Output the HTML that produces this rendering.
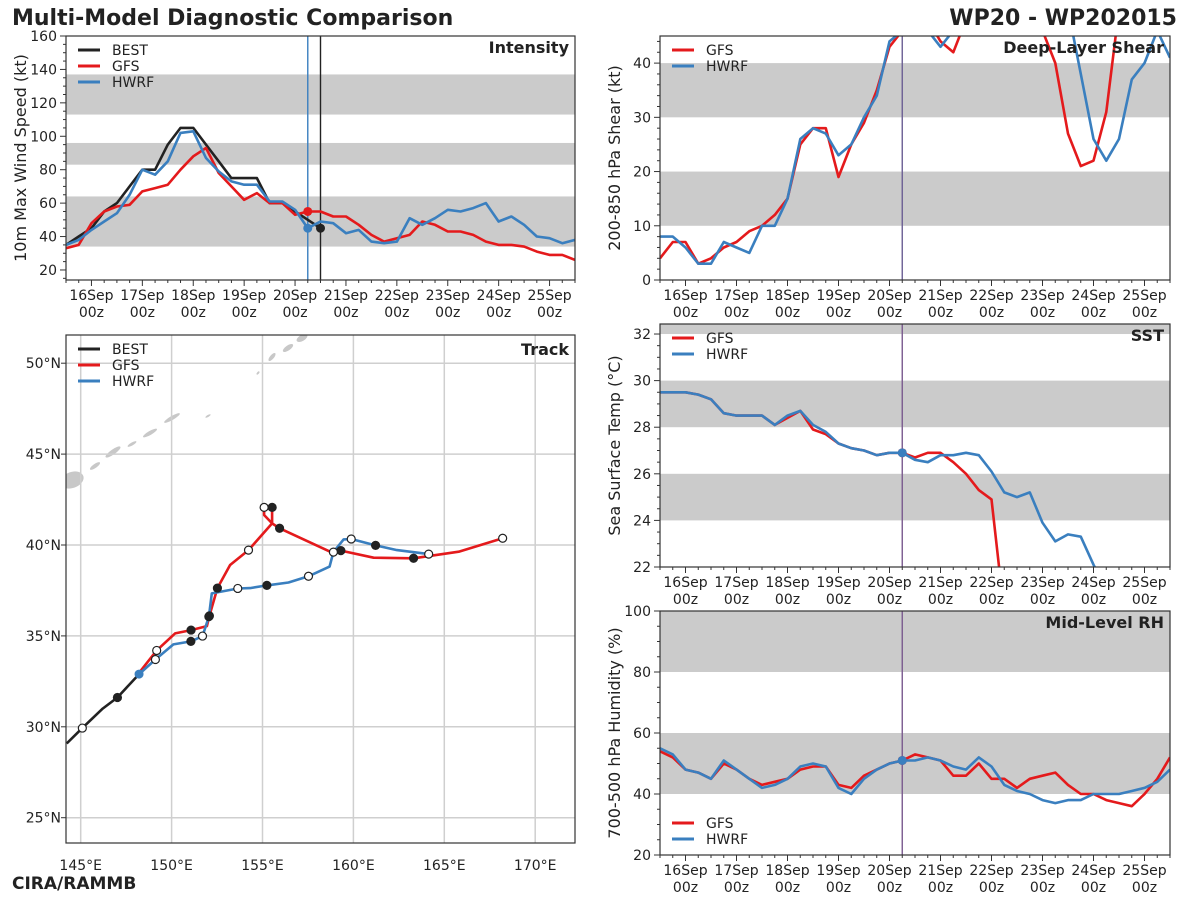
<!DOCTYPE html>
<html><head><meta charset="utf-8">
<style>
html,body{margin:0;padding:0;background:#fff;}
svg{display:block;font-family:"DejaVu Sans","Liberation Sans",sans-serif;}
</style></head>
<body>
<svg id="chart" width="1200" height="900" viewBox="0 0 1200 900" xmlns="http://www.w3.org/2000/svg">
<text x="12" y="25" font-size="22" font-weight="bold" fill="#222">Multi-Model Diagnostic Comparison</text>
<text x="1177" y="25" font-size="22" font-weight="bold" fill="#222" text-anchor="end">WP20 - WP202015</text>
<text x="12" y="889" font-size="17" font-weight="bold" fill="#222">CIRA/RAMMB</text>
</svg>
<script>
// ---- data ----
const intBest = [35,40,45,55,60,70,80,80,95,105,105,95,85,75,75,75,60,60,55,50,45];
const intGfs = [33,35,48,55,58,59,67,69,71,80,88,93,78,70,62,66,60,60,53,55,55,52,52,47,41,37,39,41,49,47,43,43,41,37,35,35,34,31,29,29,26];
const intHwrf = [35,38,44,49,54,65,80,77,85,102,103,87,79,73,71,71,61,61,56,45,49,48,42,44,37,36,37,51,47,51,56,55,57,60,49,52,47,40,39,36,38];
const shearGfs = [4,7,7,3,4,6,7,9,10,12,15,25,28,28,19,25,29,35,43,46,50,48,44,42,48,55,55,55,55,52,46,40,27,21,22,31,50,55,55,55,55];
const shearHwrf = [8,8,6,3,3,7,6,5,10,10,15,26,28,27,23,25,30,34,44,46,50,46,43,46,55,55,55,55,55,55,55,55,50,38,26,22,26,37,40,46,41];
const sstGfs = [29.5,29.5,29.5,29.4,29.2,28.6,28.5,28.5,28.5,28.1,28.4,28.7,27.9,27.7,27.3,27.1,27.0,26.8,26.9,26.9,26.7,26.9,26.9,26.5,26.0,25.3,24.9,20,20,20,20,20,20,20,20,20,20,20,20,20,20];
const sstHwrf = [29.5,29.5,29.5,29.4,29.2,28.6,28.5,28.5,28.5,28.1,28.5,28.7,28.1,27.8,27.3,27.1,27.0,26.8,26.9,26.9,26.6,26.5,26.8,26.8,26.9,26.8,26.1,25.2,25.0,25.2,23.9,23.1,23.4,23.3,22.1,21,20,20,20,20,20];
const rhGfs = [54,52,48,47,45,50,48,45,43,44,45,48,49,49,43,42,46,48,50,51,53,52,51,46,46,50,45,45,42,45,46,47,43,40,40,38,37,36,40,45,52];
const rhHwrf = [55,53,48,47,45,51,48,45,42,43,45,49,50,49,42,40,45,48,50,51,51,52,51,49,48,52,49,43,41,40,38,37,38,38,40,40,40,41,42,44,48];
const dayLabels = ["16Sep","17Sep","18Sep","19Sep","20Sep","21Sep","22Sep","23Sep","24Sep","25Sep"];
const trackBest = [[144.23,29.08],[145.09,29.93],[146.21,31.0],[147.02,31.61],[148.21,32.9]];
const trackGfs = [[148.21,32.97],[149.18,34.2],[150.19,35.14],[151.07,35.32],[151.94,35.54],[152.08,36.1],[152.52,37.63],[153.22,38.9],[154.23,39.72],[155.53,41.19],[155.09,41.65],[155.09,42.07],[155.53,42.1],[155.53,41.19],[155.94,40.92],[158.72,39.63],[159.31,39.69],[161.11,39.3],[163.31,39.27],[165.79,39.63],[168.21,40.37]];
const trackHwrf = [[148.21,32.9],[149.11,33.7],[150.1,34.53],[151.06,34.7],[151.7,34.99],[152.05,36.06],[152.21,37.34],[153.64,37.61],[154.32,37.63],[155.24,37.78],[156.43,37.94],[157.53,38.28],[158.69,38.81],[158.9,39.61],[159.46,40.31],[159.88,40.33],[161.22,39.98],[162.39,39.72],[164.14,39.5]];
const markBest = [[145.09,29.93,0],[147.02,31.61,1]];
const markGfs = [[149.18,34.2,0],[151.07,35.32,1],[152.08,36.1,1],[152.52,37.63,1],[154.23,39.72,0],[155.09,42.07,0],[155.53,42.07,1],[155.94,40.92,1],[159.31,39.69,1],[163.31,39.27,1],[168.21,40.37,0]];
const markHwrf = [[149.11,33.7,0],[151.06,34.7,1],[151.7,34.99,0],[152.05,36.06,1],[153.64,37.61,0],[155.24,37.78,1],[157.53,38.28,0],[158.9,39.61,0],[159.88,40.33,0],[161.22,39.98,1],[164.14,39.5,0]];

const RED="#e41a1c", BLUE="#3a7fbf", BLACK="#222";
const svg=document.getElementById('chart');
const NS="http://www.w3.org/2000/svg";
function mk(tag,attrs,parent){const e=document.createElementNS(NS,tag);for(const k in attrs)e.setAttribute(k,attrs[k]);(parent||svg).appendChild(e);return e;}
function times(n){const a=[];for(let i=0;i<n;i++)a.push(15.5+i*0.25);return a;}

function panel(o){
  const g=mk('g',{});
  
  
  const sx=t=>o.x0+(t-15.5)/10*(o.x1-o.x0);
  const sy=v=>o.y1-(v-o.ymin)/(o.ymax-o.ymin)*(o.y1-o.y0);
  const cid='clip-'+o.name;
  const cp=mk('clipPath',{id:cid},g);
  mk('rect',{x:o.x0,y:o.y0,width:o.x1-o.x0,height:o.y1-o.y0},cp);
  o.bands.forEach(b=>{
    const r=mk('rect',{x:o.x0,y:sy(Math.min(b[1],o.ymax)),width:o.x1-o.x0,height:sy(b[0])-sy(Math.min(b[1],o.ymax)),fill:'#cbcbcb'},g);
    
    
  });
  // y ticks
  const kStart=Math.ceil(o.ymin/o.minor-1e-9), kEnd=Math.floor(o.ymax/o.minor+1e-9);
  const ratio=Math.round(o.major/o.minor);
  for(let k=kStart;k<=kEnd;k++){
    const v=k*o.minor;
    const kk=Math.round((v-o.tick0)/o.minor);
    const major=kk>=0 && kk%ratio===0;
    mk('line',{x1:o.x0-(major?6:3),x2:o.x0,y1:sy(v),y2:sy(v),stroke:'#333','stroke-width':1},g);
    if(major){
      const t=mk('text',{x:o.x0-9,y:sy(v)+5,'font-size':14,'text-anchor':'end',fill:'#222'},g);
      t.textContent=String(Math.round(v));
      
      
    }
  }
  // x ticks
  for(let i=0;i<=40;i++){
    const t=15.5+i*0.25;const major=Math.abs(t-Math.round(t))<1e-6;
    mk('line',{x1:sx(t),x2:sx(t),y1:o.y1,y2:o.y1+(major?6:3),stroke:'#333','stroke-width':1},g);
  }
  dayLabels.forEach((d,i)=>{
    const x=sx(16+i);
    const t1=mk('text',{x:x,y:o.y1+20,'font-size':14,'text-anchor':'middle',fill:'#222'},g);
    t1.textContent=d;
    
    
    const t2=mk('text',{x:x,y:o.y1+37,'font-size':14,'text-anchor':'middle',fill:'#222'},g);
    t2.textContent='00z';
    
    
  });
  const yl=mk('text',{x:0,y:0,'font-size':16,'text-anchor':'middle',fill:'#222',transform:`translate(${o.x0-40},${(o.y0+o.y1)/2}) rotate(-90)`},g);
  yl.textContent=o.ylabel;
  
  
  (o.vlines||[]).forEach(v=>{
    const l=mk('line',{x1:sx(v[0]),x2:sx(v[0]),y1:o.y0,y2:o.y1,stroke:v[1],'stroke-width':1.4},g);
    
    
  });
  const cg=mk('g',{'clip-path':`url(#${cid})`},g);
  o.series.forEach(s=>{
    const ts=times(s.data.length);
    const p=mk('polyline',{points:s.data.map((v,i)=>sx(ts[i]).toFixed(1)+','+sy(v).toFixed(1)).join(' '),fill:'none',stroke:s.color,'stroke-width':2.6,'stroke-linejoin':'round'},cg);
    
    
    if(s.dot!==undefined){
      const c=mk('circle',{cx:sx(s.dot),cy:sy(s.data[Math.round((s.dot-15.5)*4)]),r:4.5,fill:s.color},cg);
      
      
    }
  });
  (o.extraDots||[]).forEach(d=>{
    const c=mk('circle',{cx:sx(d[0]),cy:sy(d[1]),r:4.5,fill:d[2]},cg);
    
    
  });
  mk('rect',{x:o.x0,y:o.y0,width:o.x1-o.x0,height:o.y1-o.y0,fill:'none',stroke:'#333','stroke-width':1.2},g);
  const ti=mk('text',{x:o.x1-6,y:o.y0+17,'font-size':16,'font-weight':'bold','text-anchor':'end',fill:'#222'},g);
  ti.textContent=o.title;
  
  
  legend(g,o.x0,o.legY,o.series.map(s=>[s.label,s.color]));
}
function legend(g,x0,y,items){
  items.forEach((it,i)=>{
    const lg=mk('g',{},g);
    
    
    mk('line',{x1:x0+12,x2:x0+34,y1:y+i*16,y2:y+i*16,stroke:it[1],'stroke-width':3},lg);
    const t=mk('text',{x:x0+46,y:y+i*16+5,'font-size':14,fill:'#222'},lg);
    t.textContent=it[0];
  });
}

panel({name:'intensity-panel',x0:66,x1:575,y0:36,y1:280,ymin:14,ymax:160,tick0:20,major:20,minor:5,
  bands:[[34,64],[83,96],[113,137]],ylabel:'10m Max Wind Speed (kt)',title:'Intensity',legY:50,
  vlines:[[20.25,BLUE],[20.5,BLACK]],
  series:[{label:'BEST',color:BLACK,data:intBest},{label:'GFS',color:RED,data:intGfs,dot:20.25},{label:'HWRF',color:BLUE,data:intHwrf,dot:20.25}],
  extraDots:[[20.5,intBest[intBest.length-1],BLACK]]});
panel({name:'shear-panel',x0:660,x1:1170,y0:36,y1:280,ymin:0,ymax:45,tick0:0,major:10,minor:2,
  bands:[[10,20],[30,40]],ylabel:'200-850 hPa Shear (kt)',title:'Deep-Layer Shear',legY:50,
  vlines:[[20.25,'#6b5f94']],
  series:[{label:'GFS',color:RED,data:shearGfs},{label:'HWRF',color:BLUE,data:shearHwrf}]});
panel({name:'sst-panel',x0:660,x1:1170,y0:324,y1:567,ymin:22,ymax:32.43,tick0:22,major:2,minor:0.5,
  bands:[[24,26],[28,30],[32,33]],ylabel:'Sea Surface Temp (°C)',title:'SST',legY:338,
  vlines:[[20.25,'#7a5a8e']],
  series:[{label:'GFS',color:RED,data:sstGfs,dot:20.25},{label:'HWRF',color:BLUE,data:sstHwrf,dot:20.25}]});
panel({name:'rh-panel',x0:660,x1:1170,y0:611,y1:855,ymin:20,ymax:100,tick0:20,major:20,minor:5,
  bands:[[40,60],[80,100]],ylabel:'700-500 hPa Humidity (%)',title:'Mid-Level RH',legY:823,
  vlines:[[20.25,'#7a5a8e']],
  series:[{label:'GFS',color:RED,data:rhGfs,dot:20.25},{label:'HWRF',color:BLUE,data:rhHwrf,dot:20.25}]});

// ---- track map ----
(function(){
  const x0=66,x1=575,y0=335,y1=843;
  const g=mk('g',{});
  
  
  const px=lon=>80.7+(lon-145)*18.18;
  const py=lat=>545-(lat-40)*18.18;
  const cp=mk('clipPath',{id:'clip-track'},g);
  mk('rect',{x:x0,y:y0,width:x1-x0,height:y1-y0},cp);
  const cg=mk('g',{'clip-path':'url(#clip-track)'},g);
  const land=[[72,480,12,8,-20],[95,466,6,2,-35],[113,452,9,2.5,-35],[132,444,5,1.5,-30],[150,433,8,2,-30],[172,418,9,2,-30],[208,416,3,1,-30],[258,373,2,1,-50],[272,357,5,2,-50],[288,348,6,2.5,-35],[302,338,6,3,-30]];
  land.forEach(l=>{
    const e=mk('ellipse',{cx:l[0],cy:l[1],rx:l[2],ry:l[3],fill:'#c8c8c8',transform:`rotate(${l[4]} ${l[0]} ${l[1]})`},cg);
    
    
  });
  for(let lon=145;lon<=170;lon+=5){
    mk('line',{x1:px(lon),x2:px(lon),y1:y0,y2:y1,stroke:'#cfcfcf','stroke-width':1.5},cg);
    const t=mk('text',{x:px(lon),y:y1+27,'font-size':14,'text-anchor':'middle',fill:'#222'},g);
    t.textContent=lon+'°E';
    
    
  }
  for(let lat=25;lat<=50;lat+=5){
    mk('line',{x1:x0,x2:x1,y1:py(lat),y2:py(lat),stroke:'#cfcfcf','stroke-width':1.5},cg);
    mk('line',{x1:x0-5,x2:x0,y1:py(lat),y2:py(lat),stroke:'#333'},g);
    const t=mk('text',{x:x0-5,y:py(lat)+5,'font-size':14,'text-anchor':'end',fill:'#222'},g);
    t.textContent=lat+'°N';
    
    
  }
  [[trackBest,BLACK,'best-track'],[trackGfs,RED,'gfs-track'],[trackHwrf,BLUE,'hwrf-track']].forEach(s=>{
    const p=mk('polyline',{points:s[0].map(q=>px(q[0]).toFixed(1)+','+py(q[1]).toFixed(1)).join(' '),fill:'none',stroke:s[1],'stroke-width':2.6,'stroke-linejoin':'round'},cg);
    
    
  });
  const st=mk('circle',{cx:px(148.21),cy:py(32.9),r:4.5,fill:BLUE},cg);
  
  
  [markBest,markGfs,markHwrf].forEach(arr=>arr.forEach(m=>{
    const c=mk('circle',{cx:px(m[0]),cy:py(m[1]),r:4,fill:m[2]?'#222':'#fff',stroke:'#222','stroke-width':1.2},cg);
    
    
  }));
  mk('rect',{x:x0,y:y0,width:x1-x0,height:y1-y0,fill:'none',stroke:'#333','stroke-width':1.2},g);
  const ti=mk('text',{x:x1-6,y:y0+20,'font-size':16,'font-weight':'bold','text-anchor':'end',fill:'#222'},g);
  ti.textContent='Track';
  
  
  legend(g,x0,349,[['BEST',BLACK],['GFS',RED],['HWRF',BLUE]]);
})();
</script>
</body></html>
